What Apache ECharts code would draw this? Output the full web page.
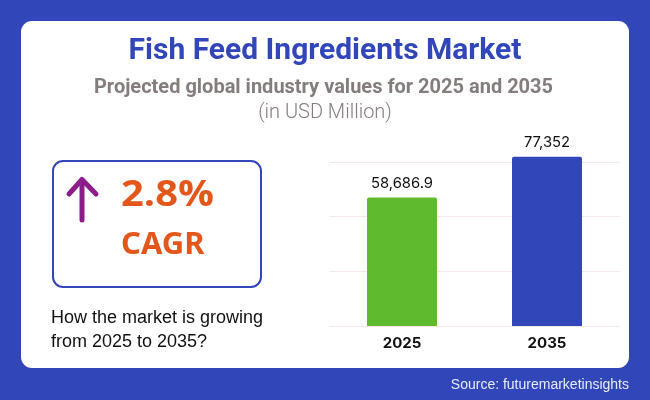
<!DOCTYPE html>
<html><head><meta charset="utf-8">
<style>html,body{margin:0;padding:0;background:#3146b8}#c{width:650px;height:400px}</style>
<script src="https://cdn.jsdelivr.net/npm/echarts@6/dist/echarts.min.js"></script>
</head><body><div id="c"></div>
<script>
const categories = ['2025', '2035'];
const values = [58686.9, 77352];
const valueLabels = ['58,686.9', '77,352'];
const barColors = ['#5fba2e', '#3146b8'];
const titleText = 'Fish Feed Ingredients Market';
const subtitleText = 'Projected global industry values for 2025 and 2035';
const unitText = '(in USD Million)';
const cagrValue = '2.8%';
const cagrLabel = 'CAGR';
const questionLines = ['How the market is growing', 'from 2025 to 2035?'];
const sourceText = 'Source: futuremarketinsights';

const chart = echarts.init(document.getElementById('c'), null, {renderer: 'canvas'});
const txt = (x, y, text, font, fill, align) => ({
  type: 'text', x, y, z: 5,
  style: {text, font, fill, align: align || 'center', verticalAlign: 'middle'}
});
chart.setOption({
  animation: false,
  backgroundColor: '#3146b8',
  grid: {left: 329.5, top: 151, width: 290, height: 175, containLabel: false},
  xAxis: {
    type: 'category', data: categories,
    axisLine: {show: false}, axisTick: {show: false},
    axisLabel: {margin: 10, color: '#111', fontFamily: 'Inter', fontWeight: 'bold', fontSize: 15}
  },
  yAxis: {
    type: 'value', min: 0, max: 80000, interval: 25000,
    axisLine: {show: false}, axisTick: {show: false}, axisLabel: {show: false},
    splitLine: {show: true, showMaxLine: false, lineStyle: {color: '#f7e6e6', width: 1}}
  },
  series: [{
    type: 'bar', barWidth: 70, z: 3,
    data: values.map((v, i) => ({value: v, itemStyle: {color: barColors[i], borderRadius: [2, 2, 0, 0]}})),
    label: {
      show: true, position: 'top', distance: 7,
      formatter: p => valueLabels[p.dataIndex],
      color: '#111', fontFamily: 'Inter', fontSize: 14.8
    }
  }],
  graphic: {elements: [
    {type: 'rect', z: -10, silent: true, shape: {x: 21, y: 21, width: 608, height: 347, r: 11}, style: {fill: '#fff'}},
    txt(325, 51, titleText, 'bold 30px Roboto', '#3146b8'),
    txt(323.5, 87.5, subtitleText, 'bold 20px Roboto', '#857c7c'),
    txt(325, 113, unitText, '300 20px Roboto', '#857c7c'),
    {type: 'rect', z: 4, shape: {x: 53, y: 161, width: 208, height: 126, r: 10}, style: {fill: '#fff', stroke: '#3146b8', lineWidth: 2}},
    {type: 'polyline', z: 5, shape: {points: [[82, 220], [82, 180]]}, style: {stroke: '#8b1e8b', lineWidth: 5, lineCap: 'round', fill: null}},
    {type: 'polyline', z: 5, shape: {points: [[69, 194], [82, 179.5], [96, 194]]}, style: {stroke: '#8b1e8b', lineWidth: 5, lineCap: 'round', lineJoin: 'round', fill: null}},
    Object.assign(txt(121, 196, cagrValue, 'bold 35px "Open Sans"', '#e3581a', 'left'), {scaleX: 1.14}),
    txt(121, 245, cagrLabel, 'bold 31px "Noto Sans"', '#e3581a', 'left'),
    txt(51, 318, questionLines[0], '18px "Liberation Sans"', '#111', 'left'),
    txt(51, 342, questionLines[1], '18px "Liberation Sans"', '#111', 'left'),
    txt(629, 385, sourceText, '14px "Liberation Sans"', '#e8ebfa', 'right')
  ]}
});
</script></body></html>
